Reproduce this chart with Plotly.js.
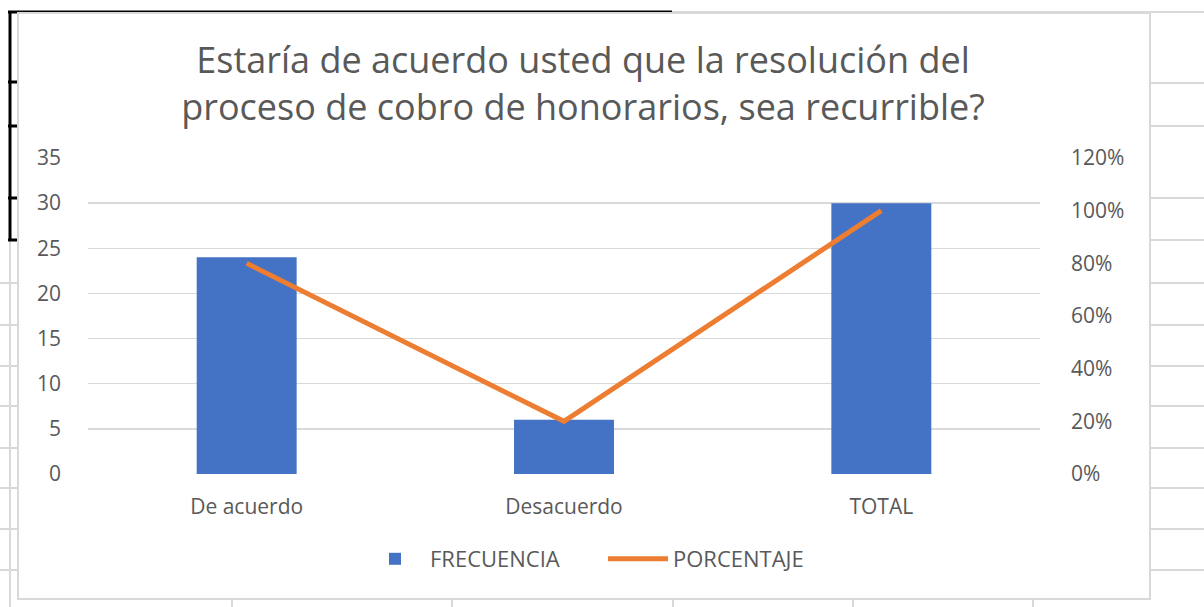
<!DOCTYPE html>
<html><head><meta charset="utf-8">
<script src="https://cdn.plot.ly/plotly-3.0.1.min.js"></script>
<style>html,body{margin:0;padding:0;background:#fff}#c{width:1204px;height:607px}</style>
</head><body><div id="c"></div>
<script>
const categories = ["De acuerdo", "Desacuerdo", "TOTAL"];
const frecuencia = [24, 6, 30];
const porcentaje = [0.80, 0.20, 1.00];
const leftTicks = [0, 5, 10, 15, 20, 25, 30, 35];
const rightTicks = [0, 0.2, 0.4, 0.6, 0.8, 1.0, 1.2];
const rightTickLabels = ["0%", "20%", "40%", "60%", "80%", "100%", "120%"];
const titleText = "Estaría de acuerdo usted que la resolución del<br>proceso de cobro de honorarios, sea recurrible?";

const W = 1204, H = 607;
const L = 88, R = 1040, T = 158, B = 474;
const px = x => (x - L) / (R - L), py = y => (B - y) / (B - T);
const shapes = [];
const g = '#d9d9d9';
function seg(x0, y0, x1, y1, color, width) {
  shapes.push({type:'line', xref:'paper', yref:'paper', x0:px(x0), x1:px(x1), y0:py(y0), y1:py(y1), line:{color:color, width:width}, layer:'below'});
}
// spreadsheet grid background
[83, 126, 198, 240, 283, 325, 366, 406, 448, 488, 529, 570].forEach(y => seg(1150, y, 1204, y, g, 2));
[283, 325, 366, 406, 448, 488, 529, 570].forEach(y => seg(0, y, 18, y, g, 2));
seg(10, 240, 10, 607, g, 2);
seg(672, 12, 1204, 12, g, 2);
[232, 452, 673, 853, 1033].forEach(x => seg(x, 600, x, 607, g, 2));
// black border fragments
seg(8, 12, 672, 12, '#000', 3);
seg(10, 11, 10, 241, '#000', 3);
[82, 126, 198, 240].forEach(y => seg(8, y, 17, y, '#000', 3));
// chart border
shapes.push({type:'rect', xref:'paper', yref:'paper', x0:px(18), x1:px(1150), y0:py(599), y1:py(13), line:{color:g, width:2}, fillcolor:'rgba(0,0,0,0)', layer:'below'});

const font = "'Open Sans', 'Noto Sans', sans-serif";
const data = [
  {type:'bar', x:categories, y:frecuencia, name:'FRECUENCIA', marker:{color:'#4472C4'}, width:0.315, yaxis:'y'},
  {type:'scatter', mode:'lines', x:categories, y:porcentaje, name:'PORCENTAJE', line:{color:'#ED7D31', width:5, shape:'linear'}, yaxis:'y2'}
];
const layout = {
  width: W, height: H,
  margin: {l:L, r:W-R, t:T, b:H-B},
  paper_bgcolor:'#fff', plot_bgcolor:'rgba(0,0,0,0)',
  font: {family: font, color:'#595959', size:21},
  title: {text:titleText, x:583/W, xanchor:'center', y:1-73/H, yanchor:'middle', font:{size:36, color:'#595959', family:font}},
  showlegend: true,
  legend: {orientation:'h', x:px(360), xanchor:'left', y:py(559), yanchor:'middle', font:{size:22, color:'#595959'}, traceorder:'normal', itemwidth:60, entrywidth:168, bgcolor:'rgba(0,0,0,0)'},
  xaxis: {type:'category', showgrid:false, zeroline:false, showline:false, ticks:'', tickfont:{size:21, color:'#595959'}, range:[-0.5, 2.5], ticklabelstandoff:18},
  yaxis: {range:[0, 35], tickvals:leftTicks, showgrid:true, gridcolor:'#d9d9d9', gridwidth:1.5, zeroline:false, showline:false, ticks:'', tickfont:{size:21, color:'#595959'}, ticklabelstandoff:26},
  yaxis2: {range:[0, 1.2], tickvals:rightTicks, ticktext:rightTickLabels, overlaying:'y', side:'right', showgrid:false, zeroline:false, showline:false, ticks:'', tickfont:{size:21, color:'#595959'}, ticklabelstandoff:30},
  shapes: shapes
};
Plotly.newPlot('c', data, layout, {displayModeBar:false, staticPlot:true});
</script></body></html>
